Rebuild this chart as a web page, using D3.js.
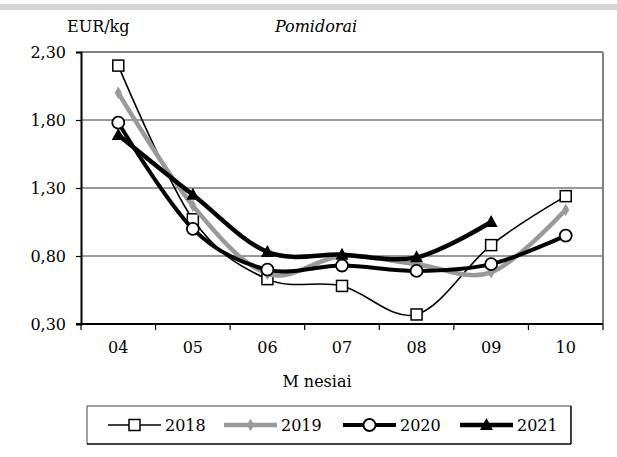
<!DOCTYPE html>
<html>
<head>
<meta charset="utf-8">
<script src="https://cdn.jsdelivr.net/npm/d3@7"></script>
<style>
  body { margin: 0; background: #fff; }
</style>
</head>
<body>
<div id="chart"></div>
<script>
// data
const months = ["04", "05", "06", "07", "08", "09", "10"]
const yTicks = [0.30, 0.80, 1.30, 1.80, 2.30]
const s2018 = [2.20, 1.07, 0.63, 0.58, 0.37, 0.88, 1.24]
const s2019 = [2.00, 1.17, 0.67, 0.80, 0.74, 0.68, 1.14]
const s2020 = [1.78, 1.00, 0.70, 0.73, 0.69, 0.74, 0.95]
const s2021 = [1.69, 1.25, 0.83, 0.81, 0.79, 1.05, null]

const series = [
  { name: "2018", values: s2018, color: "#000", width: 1.6, marker: "square" },
  { name: "2019", values: s2019, color: "#999", width: 4.5, marker: "diamond" },
  { name: "2020", values: s2020, color: "#000", width: 4, marker: "circle" },
  { name: "2021", values: s2021, color: "#000", width: 4.5, marker: "triangle" }
]

// only serif face that is really there
const FONT = "DejaVu Serif"
const FS = 16

const W = 617, H = 457
const margin = { top: 52, right: 14, bottom: 133, left: 81 }
const width = W - margin.left - margin.right,
      height = H - margin.top - margin.bottom

const svg = d3.select('#chart').append('svg')
  .attr('width', W).attr('height', H)
  .attr('font-family', FONT)

// top grey band
svg.append('rect').attr('x', 0).attr('y', 4).attr('width', W).attr('height', 6).attr('fill', '#d4d4d4')

const g = svg.append('g').attr('transform', "translate(" + margin.left + "," + margin.top + ")")

const xBand = d3.scaleBand().domain(months).range([0, width])
const x = d => xBand(d) + xBand.bandwidth() / 2
const y = d3.scaleLinear().domain([0.30, 2.30]).range([height, 0])

// grid lines
g.append('g').selectAll('line')
  .data(yTicks.slice(1, -1))
  .enter().append('line')
    .attr('x1', 0).attr('x2', width)
    .attr('y1', d => y(d)).attr('y2', d => y(d))
    .attr('stroke', '#333').attr('stroke-width', 1)

// plot border top/right
g.append('line').attr('x1', 0).attr('x2', width).attr('y1', 0).attr('y2', 0).attr('stroke', '#808080').attr('stroke-width', 2)
g.append('line').attr('x1', width).attr('x2', width).attr('y1', 0).attr('y2', height).attr('stroke', '#808080').attr('stroke-width', 2)

// y axis
const yAxis = g.append('g')
  .call(d3.axisLeft(y).tickValues(yTicks).tickSize(5).tickPadding(10).tickFormat(d => d3.format('.2f')(d).replace('.', ',')))
yAxis.attr('font-family', FONT).attr('font-size', FS)
yAxis.select('.domain').attr('stroke', '#000').attr('stroke-width', 2)
yAxis.selectAll('.tick line').attr('stroke', '#000').attr('stroke-width', 1.2)
yAxis.selectAll('text').attr('fill', '#000')

// x axis with ticks at category boundaries
const xAxis = g.append('g').attr('transform', "translate(0," + height + ")")
xAxis.append('line').attr('x1', -5).attr('x2', width).attr('stroke', '#000').attr('stroke-width', 2)
xAxis.selectAll('.bt')
  .data(d3.range(months.length + 1))
  .enter().append('line')
    .attr('x1', i => i * xBand.step()).attr('x2', i => i * xBand.step())
    .attr('y1', 0).attr('y2', 6)
    .attr('stroke', '#000').attr('stroke-width', 1.2)
xAxis.selectAll('.lbl')
  .data(months)
  .enter().append('text')
    .attr('x', d => x(d)).attr('y', 29)
    .attr('text-anchor', 'middle')
    .attr('font-size', FS)
    .text(d => d)

// labels
svg.append('text').attr('x', 67).attr('y', 32).attr('font-size', FS).text('EUR/kg')
svg.append('text').attr('x', 316).attr('y', 32).attr('text-anchor', 'middle').attr('font-size', FS).attr('font-style', 'italic').text('Pomidorai')
svg.append('text').attr('x', 317).attr('y', 387).attr('text-anchor', 'middle').attr('font-size', FS).text('M nesiai')

const line = d3.line()
  .defined(d => d != null)
  .x((d, i) => x(months[i]))
  .y(d => y(d))
  .curve(d3.curveCardinal.tension(0))

function drawMarker(sel, type, color) {
  if (type === "square") {
    sel.append('rect').attr('x', -5.5).attr('y', -5.5).attr('width', 11).attr('height', 11)
      .attr('fill', '#fff').attr('stroke', '#000').attr('stroke-width', 1.5)
  } else if (type === "diamond") {
    sel.append('path').attr('d', d3.symbol(d3.symbolDiamond, 45)()).attr('fill', color)
  } else if (type === "circle") {
    sel.append('circle').attr('r', 6).attr('fill', '#fff').attr('stroke', '#000').attr('stroke-width', 1.8)
  } else if (type === "triangle") {
    sel.append('path').attr('d', 'M0,-7L6.5,5L-6.5,5Z').attr('fill', '#000')
  }
}

series.forEach(s => {
  g.append('path')
    .datum(s.values)
    .attr('fill', 'none')
    .attr('stroke', s.color)
    .attr('stroke-width', s.width)
    .attr('stroke-linejoin', 'round')
    .attr('d', line)
  s.values.forEach((v, i) => {
    if (v == null) return
    const m = g.append('g').attr('transform', "translate(" + x(months[i]) + "," + y(v) + ")")
    drawMarker(m, s.marker, s.color)
  })
})

// legend
const lg = svg.append('g')
lg.append('line').attr('x1', 87).attr('x2', 571).attr('y1', 406).attr('y2', 406).attr('stroke', '#808080').attr('stroke-width', 1.5)
lg.append('line').attr('x1', 87).attr('x2', 87).attr('y1', 406).attr('y2', 444).attr('stroke', '#808080').attr('stroke-width', 1.5)
lg.append('line').attr('x1', 87).attr('x2', 571).attr('y1', 444).attr('y2', 444).attr('stroke', '#000').attr('stroke-width', 1.5)
lg.append('line').attr('x1', 571).attr('x2', 571).attr('y1', 406).attr('y2', 444).attr('stroke', '#000').attr('stroke-width', 1.5)

const legendX = [108, 224, 343, 460]
series.forEach((s, i) => {
  const x0 = legendX[i]
  lg.append('line').attr('x1', x0).attr('x2', x0 + 53).attr('y1', 425).attr('y2', 425)
    .attr('stroke', s.color).attr('stroke-width', s.width)
  const m = lg.append('g').attr('transform', "translate(" + (x0 + 26.5) + ",425)")
  drawMarker(m, s.marker, s.color)
  lg.append('text').attr('x', x0 + 57).attr('y', 431).attr('font-size', FS).text(s.name)
})
</script>
</body>
</html>
